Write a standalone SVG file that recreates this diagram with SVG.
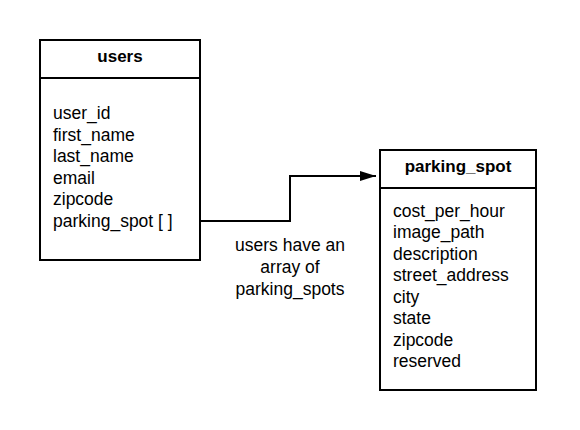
<svg xmlns="http://www.w3.org/2000/svg" width="580" height="430" viewBox="0 0 580 430">
<style>
.box{fill:#fff;stroke:#000;stroke-width:2}
.sep{stroke:#000;stroke-width:2}
.t{font-family:"Liberation Sans",Arial,sans-serif;font-size:17.5px;fill:#000}
.h{font-family:"Liberation Sans",Arial,sans-serif;font-size:17px;font-weight:bold;fill:#000;text-anchor:middle}
.c{fill:none;stroke:#000;stroke-width:2}
.lbl{font-family:"Liberation Sans",Arial,sans-serif;font-size:17.5px;fill:#000;text-anchor:middle}
</style>
<defs>
<marker id="arr" markerUnits="userSpaceOnUse" markerWidth="18" markerHeight="12" refX="16" refY="5" orient="auto">
<path d="M0,0 L16,5 L0,10 Z" fill="#000"/>
</marker>
</defs>
<rect width="580" height="430" fill="#fff"/>
<g id="connectors">
<path class="c" d="M200,221 H290 V176 H376" marker-end="url(#arr)"/>
<text class="lbl" x="290" y="251">users have an</text>
<text class="lbl" x="290" y="273">array of</text>
<text class="lbl" x="290" y="295">parking_spots</text>
</g>
<g id="users">
<rect class="box" x="40" y="40" width="160" height="220"/>
<line class="sep" x1="40" y1="78" x2="200" y2="78"/>
<text class="h" x="120" y="62">users</text>
<text class="t" x="53" y="119">user_id</text>
<text class="t" x="53" y="140.5">first_name</text>
<text class="t" x="53" y="162">last_name</text>
<text class="t" x="53" y="183.5">email</text>
<text class="t" x="53" y="205">zipcode</text>
<text class="t" x="53" y="226.5">parking_spot [ ]</text>
</g>
<g id="parking_spot">
<rect class="box" x="380" y="150" width="156" height="240"/>
<line class="sep" x1="380" y1="188" x2="536" y2="188"/>
<text class="h" x="458" y="172">parking_spot</text>
<text class="t" x="393" y="216.5">cost_per_hour</text>
<text class="t" x="393" y="238">image_path</text>
<text class="t" x="393" y="259.5">description</text>
<text class="t" x="393" y="281">street_address</text>
<text class="t" x="393" y="302.5">city</text>
<text class="t" x="393" y="324">state</text>
<text class="t" x="393" y="345.5">zipcode</text>
<text class="t" x="393" y="367">reserved</text>
</g>
</svg>
